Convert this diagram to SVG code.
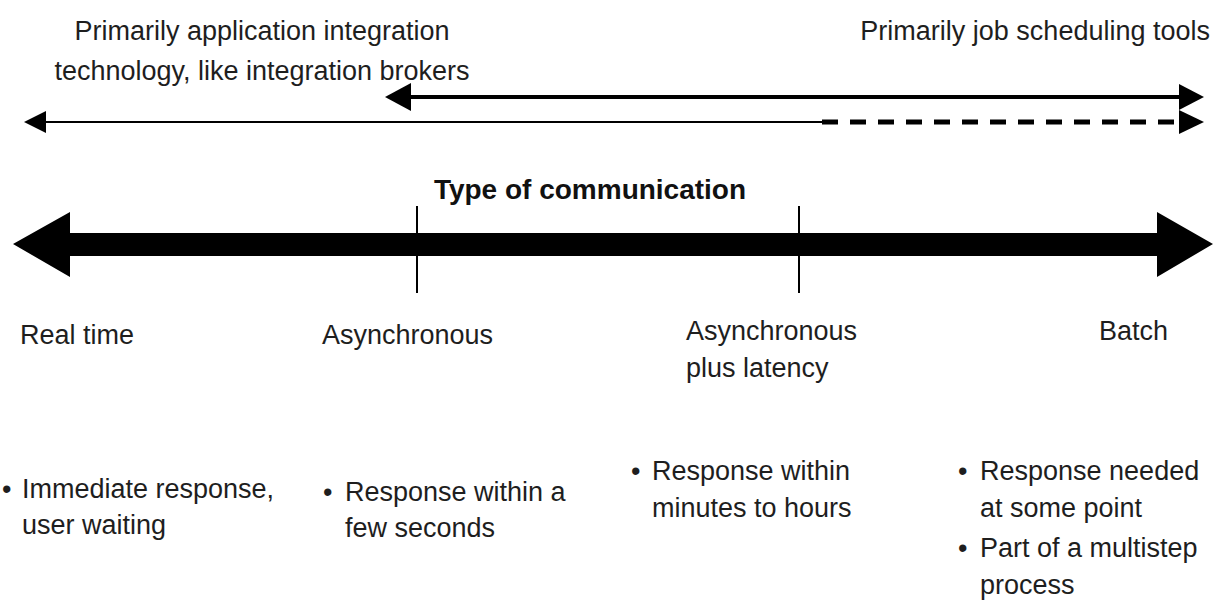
<svg xmlns="http://www.w3.org/2000/svg" width="1215" height="606" viewBox="0 0 1215 606">
  <style>
    .t { font-family: "Liberation Sans", Arial, sans-serif; font-size: 27px; fill: #1e1e1e; }
    .b { font-weight: bold; font-size: 28px; fill: #111; }
    .ln { stroke: #000; fill: none; }
    .head { fill: #000; }
  </style>
  <rect width="1215" height="606" fill="#fff"/>

  <!-- tool ranges -->
  <g id="label-integration">
    <text class="t" x="262" y="40" text-anchor="middle">Primarily application integration</text>
    <text class="t" x="262" y="80" text-anchor="middle">technology, like integration brokers</text>
  </g>
  <g id="label-scheduling">
    <text class="t" x="1210" y="40" text-anchor="end">Primarily job scheduling tools</text>
  </g>

  <g id="connectors">
    <!-- job scheduling range: Asynchronous to Batch -->
    <line class="ln" x1="405" y1="97" x2="1185" y2="97" stroke-width="4"/>
    <polygon class="head" points="385,97 411,83 411,111"/>
    <polygon class="head" points="1204,97 1179,84 1179,110"/>
    <!-- integration range: Real time to Batch, weaker towards batch -->
    <line class="ln" x1="40" y1="122" x2="822" y2="122" stroke-width="2"/>
    <line class="ln" x1="822" y1="122" x2="1182" y2="122" stroke-width="5" stroke-dasharray="16 12"/>
    <polygon class="head" points="24,122 46,111 46,133"/>
    <polygon class="head" points="1204,122 1179,110 1179,134"/>
    <!-- main communication axis -->
    <polygon class="head" points="13,244 70,212 70,233 1157,233 1157,212 1213,244 1157,277 1157,256 70,256 70,277"/>
    <line class="ln" x1="417" y1="206" x2="417" y2="293" stroke-width="2"/>
    <line class="ln" x1="799" y1="206" x2="799" y2="293" stroke-width="2"/>
  </g>

  <g id="axis-title">
    <text class="t b" x="590" y="199" text-anchor="middle">Type of communication</text>
  </g>

  <g id="real-time">
    <text class="t" x="20" y="344">Real time</text>
    <text class="t" x="2" y="498">•</text>
    <text class="t" x="22" y="498">Immediate response,</text>
    <text class="t" x="22" y="534">user waiting</text>
  </g>

  <g id="asynchronous">
    <text class="t" x="322" y="344">Asynchronous</text>
    <text class="t" x="323" y="501">•</text>
    <text class="t" x="345" y="501">Response within a</text>
    <text class="t" x="345" y="537">few seconds</text>
  </g>

  <g id="asynchronous-latency">
    <text class="t" x="686" y="340">Asynchronous</text>
    <text class="t" x="686" y="377">plus latency</text>
    <text class="t" x="631" y="480">•</text>
    <text class="t" x="652" y="480">Response within</text>
    <text class="t" x="652" y="517">minutes to hours</text>
  </g>

  <g id="batch">
    <text class="t" x="1099" y="340">Batch</text>
    <text class="t" x="958" y="480">•</text>
    <text class="t" x="980" y="480">Response needed</text>
    <text class="t" x="980" y="517">at some point</text>
    <text class="t" x="958" y="557">•</text>
    <text class="t" x="980" y="557">Part of a multistep</text>
    <text class="t" x="980" y="594">process</text>
  </g>
</svg>
